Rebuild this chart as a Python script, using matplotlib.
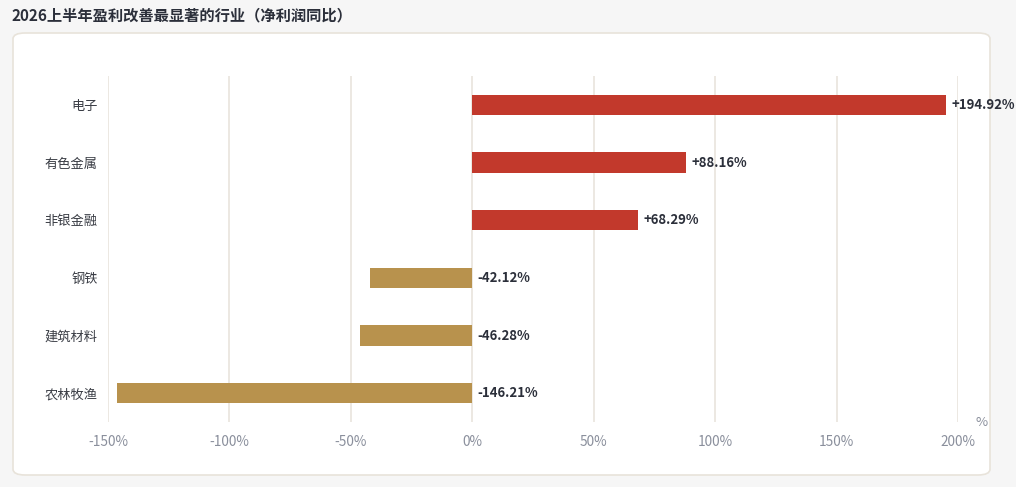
import matplotlib
matplotlib.use("Agg")
import matplotlib.pyplot as plt
from matplotlib.patches import FancyBboxPatch

plt.rcParams['font.family'] = ['Noto Sans CJK SC', 'DejaVu Sans']

categories = ["电子", "有色金属", "非银金融", "钢铁", "建筑材料", "农林牧渔"]
values = [194.92, 88.16, 68.29, -42.12, -46.28, -146.21]
xticks = [-150, -100, -50, 0, 50, 100, 150, 200]
xtick_labels = ["-150%", "-100%", "-50%", "0%", "50%", "100%", "150%", "200%"]
title = "2026上半年盈利改善最显著的行业（净利润同比）"

W, H = 1016, 487
fig = plt.figure(figsize=(W / 100, H / 100), dpi=100)
fig.patch.set_facecolor("#f6f6f6")

# card
card = FancyBboxPatch((13 / W, 12 / H), (990 - 13) / W, (454 - 12) / H,
                      boxstyle="round,pad=0,rounding_size=0.012",
                      transform=fig.transFigure, facecolor="white",
                      edgecolor="#e8e3da", linewidth=1.2, zorder=-5)
fig.patches.append(card)

fig.text(12 / W, 1 - 15 / H, title, fontsize=11, fontweight="bold",
         color="#2b2f3a", ha="left", va="center")

ax = fig.add_axes([108 / W, (H - 422) / H, (958 - 108) / W, (422 - 76) / H])
ax.set_zorder(2)
ax.set_facecolor("none")

pos = list(range(len(categories)))
colors = ["#c2392c" if v >= 0 else "#b8924d" for v in values]
ax.barh(pos, values, height=0.35, color=colors, zorder=3)

for p, v in zip(pos, values):
    x = v if v >= 0 else 0
    label = f"+{v:.2f}%" if v >= 0 else f"{v:.2f}%"
    ax.text(x + 2.3, p, label, ha="left", va="center", fontsize=9.5,
            fontweight="bold", color="#2b2f3a", zorder=4, clip_on=False)

ax.set_xlim(-150, 200)
ax.set_ylim(len(categories) - 0.5, -0.5)
ax.set_xticks(xticks)
ax.set_xticklabels(xtick_labels)
ax.set_yticks(pos)
ax.set_yticklabels(categories)
ax.tick_params(axis="x", length=0, pad=9, labelsize=9.8, labelcolor="#8a8f9c")
ax.tick_params(axis="y", length=0, pad=7.5, labelsize=9.5, labelcolor="#3a3d45")
ax.grid(axis="x", color="#ebe6df", linewidth=1.3, zorder=0)
ax.grid(axis="y", visible=False)
ax.set_axisbelow(True)
for s in ax.spines.values():
    s.set_visible(False)

fig.text(982 / W, 1 - 423 / H, "%", fontsize=9.5, color="#8a8f9c",
         ha="center", va="center")

fig.savefig("out.png", dpi=100, facecolor=fig.get_facecolor())
